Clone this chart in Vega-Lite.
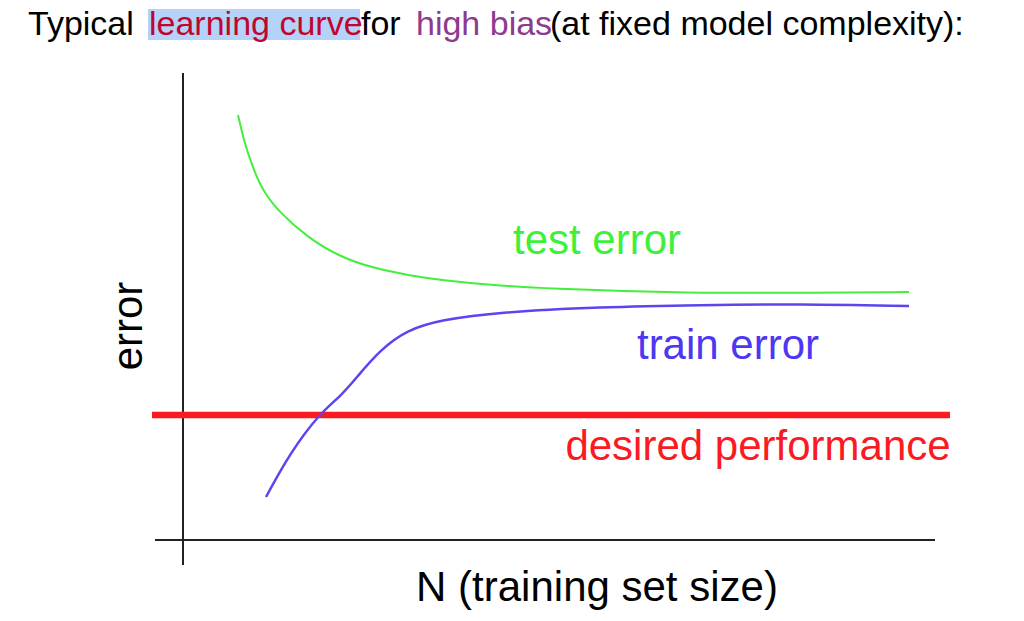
{
  "$schema": "https://vega.github.io/schema/vega-lite/v6.json",
  "width": 1024,
  "height": 621,
  "autosize": {"type": "fit", "contains": "padding"},
  "padding": 0,
  "background": "white",
  "view": {"stroke": null},
  "config": {"text": {"font": "Liberation Sans"}},
  "resolve": {"scale": {"color": "independent"}},
  "datasets": {
    "test": [
      {"N": 55, "E": 425}, {"N": 62, "E": 395}, {"N": 69, "E": 375}, {"N": 79, "E": 350},
      {"N": 97, "E": 327}, {"N": 124, "E": 303}, {"N": 157, "E": 283}, {"N": 190, "E": 272},
      {"N": 224, "E": 265}, {"N": 257, "E": 260}, {"N": 317, "E": 254}, {"N": 377, "E": 251},
      {"N": 437, "E": 249}, {"N": 517, "E": 247}, {"N": 617, "E": 247}, {"N": 726, "E": 248}
    ],
    "train": [
      {"N": 83, "E": 43}, {"N": 107, "E": 87}, {"N": 137, "E": 127}, {"N": 157, "E": 143},
      {"N": 174, "E": 163}, {"N": 197, "E": 190}, {"N": 224, "E": 210}, {"N": 257, "E": 220},
      {"N": 317, "E": 228}, {"N": 417, "E": 233}, {"N": 517, "E": 235}, {"N": 617, "E": 236},
      {"N": 726, "E": 234}
    ],
    "axes": [
      {"N": 0, "N2": 0, "E": -25, "E2": 467},
      {"N": -28, "N2": 752, "E": 0, "E2": 0}
    ],
    "desired": [{"N": -31, "N2": 767, "E": 125}],
    "highlight": [{"N": -35, "N2": 177, "E": 531, "E2": 500}],
    "title": [
      {"text": "Typical", "part": "plain", "N": -155, "E": 505},
      {"text": "learning curve", "part": "term", "N": -34, "E": 505},
      {"text": "for", "part": "plain", "N": 178, "E": 505},
      {"text": "high bias", "part": "bias", "N": 233, "E": 505},
      {"text": "(at fixed model complexity):", "part": "plain", "N": 367, "E": 505}
    ],
    "labels": [
      {"text": "test error", "series": "test", "N": 414, "E": 286},
      {"text": "train error", "series": "train", "N": 545, "E": 181},
      {"text": "desired performance", "series": "desired", "N": 575, "E": 80}
    ]
  },
  "encoding": {
    "x": {"field": "N", "type": "quantitative", "axis": null, "scale": {"domain": [-183, 841], "nice": false, "zero": false}},
    "y": {"field": "E", "type": "quantitative", "axis": null, "scale": {"domain": [-81, 540], "nice": false, "zero": false}}
  },
  "layer": [
    {
      "data": {"name": "highlight"},
      "mark": {"type": "rect", "color": "#b5d2f8"},
      "encoding": {"x2": {"field": "N2"}, "y2": {"field": "E2"}}
    },
    {
      "data": {"name": "title"},
      "mark": {"type": "text", "fontSize": 34, "align": "left", "baseline": "alphabetic"},
      "encoding": {
        "text": {"field": "text"},
        "color": {"field": "part", "type": "nominal", "legend": null,
          "scale": {"domain": ["plain", "term", "bias"], "range": ["#000000", "#c0062f", "#8d3a8f"]}}
      }
    },
    {
      "data": {"name": "axes"},
      "mark": {"type": "rule", "color": "#222222", "strokeWidth": 2},
      "encoding": {"x2": {"field": "N2"}, "y2": {"field": "E2"}}
    },
    {
      "data": {"name": "desired"},
      "mark": {"type": "rule", "color": "#fb1a22", "strokeWidth": 6.5},
      "encoding": {"x2": {"field": "N2"}}
    },
    {
      "data": {"name": "test"},
      "mark": {"type": "line", "color": "#44ee3c", "strokeWidth": 2, "interpolate": "basis"},
      "encoding": {}
    },
    {
      "data": {"name": "train"},
      "mark": {"type": "line", "color": "#5b45f0", "strokeWidth": 2.5, "interpolate": "basis"},
      "encoding": {}
    },
    {
      "data": {"name": "labels"},
      "mark": {"type": "text", "fontSize": 42, "align": "center", "baseline": "alphabetic"},
      "encoding": {
        "text": {"field": "text"},
        "color": {"field": "series", "type": "nominal", "legend": null,
          "scale": {"domain": ["test", "train", "desired"], "range": ["#3ef03a", "#4e37f2", "#fb1a22"]}}
      }
    },
    {
      "data": {"values": [{"text": "N (training set size)", "N": 414, "E": -61}]},
      "mark": {"type": "text", "fontSize": 42, "align": "center", "baseline": "alphabetic", "color": "#000000"},
      "encoding": {"text": {"field": "text"}}
    },
    {
      "data": {"values": [{"text": "error", "N": -41, "E": 214}]},
      "mark": {"type": "text", "fontSize": 42, "align": "center", "baseline": "alphabetic", "angle": 270, "color": "#000000"},
      "encoding": {"text": {"field": "text"}}
    }
  ]
}
